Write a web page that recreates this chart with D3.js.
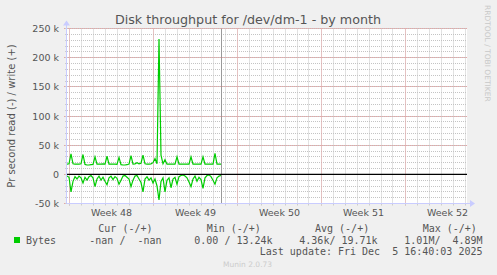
<!DOCTYPE html>
<html>
<head>
<meta charset="utf-8">
<script src="https://cdn.jsdelivr.net/npm/d3@7"></script>
<style>
  html, body { margin: 0; padding: 0; background: #f0f0f0; }
  svg { display: block; font-family: "DejaVu Sans", sans-serif; }
  .tick text { fill: #555; font-size: 9.5px; font-family: "DejaVu Sans", sans-serif; }
  .mono { font-family: "DejaVu Sans Mono", monospace; font-size: 10px; fill: #555; white-space: pre; }
</style>
</head>
<body>
<svg id="chart" width="497" height="275"></svg>
<script>
// series: 4-hour samples starting Nov 23 20:00 UTC, bytes per second (thousands)
const startTime = "2025-11-23T20:00:00Z";
const stepHours = 4;
const writeK = [
  17.5, 18, 35, 18, 17.5, 17.5, 17.5, 18, 34, 17, 16, 16, 16.5, 17, 30, 17.5,
  17.5, 17.5, 18, 17.5, 31, 17.5, 17.5, 17.5, 17.5, 17, 29, 16.5, 16, 16, 16.5, 17.5,
  32, 17.5, 18, 20, 18, 19, 33, 18, 17.5, 17.5, 18, 20, 27, 18, 232, 33,
  18, 25, 17.5, 17.5, 17.5, 17.5, 17.5, 30, 17.5, 17.5, 17.5, 17.5, 17.5, 17.5, 30, 17.5,
  17.5, 17.5, 17.5, 17.5, 30, 17.5, 17.5, 17.5, 17.5, 17.5, 36, 17.5, 17.5, 17.5
];
const readK = [
  3, 5, 30, 12, 4, 8, 3, 6, 15, 5, 10, 4, 2, 6, 21, 8,
  3, 10, 5, 12, 18, 6, 3, 9, 4, 7, 17, 10, 3, 2, 5, 8,
  21, 10, 3, 2, 8, 14, 30, 8, 4, 10, 6, 15, 8, 20, 44, 12,
  6, 30, 10, 6, 23, 8, 5, 17, 4, 2, 1, 3, 6, 13, 21, 8,
  3, 12, 5, 9, 24, 6, 2, 1, 4, 10, 17, 6, 3, 2
];
const weekLabels = ["Week 48", "Week 49", "Week 50", "Week 51", "Week 52"];
const weekStarts = ["2025-11-24", "2025-12-01", "2025-12-08", "2025-12-15", "2025-12-22"];
const yMajor = [-50000, 0, 50000, 100000, 150000, 200000, 250000];
const lastUpdateMark = "2025-12-06T16:40:00Z";

const legendHead = ["Cur (-/+)", "Min (-/+)", "Avg (-/+)", "Max (-/+)"];
const legendVals = ["-nan /  -nan", "0.00 / 13.24k", "4.36k/ 19.71k", "1.01M/  4.89M"];
const lastUpdate = "Last update: Fri Dec  5 16:40:03 2025";

const svg = d3.select("#chart");
const plot = { left: 67, right: 467, top: 28.5, bottom: 203.5 };

const t0 = new Date(startTime);
const x = d3.scaleUtc()
  .domain([t0, d3.utcHour.offset(new Date("2025-12-27T00:00:00Z"), 4)])
  .range([plot.left, plot.right]);
const y = d3.scaleLinear().domain([-50000, 250000]).range([plot.bottom, plot.top]);

const pts = writeK.map((w, i) => ({
  t: d3.utcHour.offset(t0, i * stepHours),
  w: w * 1000,
  r: -readK[i] * 1000,
}));

// canvas
svg.append("rect").attr("x", plot.left).attr("y", plot.top - 0.5)
  .attr("width", plot.right - plot.left).attr("height", plot.bottom - plot.top + 0.5)
  .attr("fill", "#ffffff");

const crisp = (v) => Math.round(v - 0.5) + 0.5;

// grid: minor (days / 10k)
const dayTicks = d3.utcDay.range(x.domain()[0], x.domain()[1]);
const minorY = d3.range(-50000, 250001, 10000);
const grid = svg.append("g");
grid.selectAll(".vmin").data(dayTicks).join("line").attr("class", "vmin")
  .attr("x1", (d) => crisp(x(d))).attr("x2", (d) => crisp(x(d)))
  .attr("y1", plot.top).attr("y2", plot.bottom)
  .attr("stroke", "#c4c4c4").attr("stroke-dasharray", "1 1");
grid.selectAll(".hmin").data(minorY).join("line").attr("class", "hmin")
  .attr("y1", (d) => crisp(y(d))).attr("y2", (d) => crisp(y(d)))
  .attr("x1", plot.left).attr("x2", plot.right)
  .attr("stroke", "#c4c4c4").attr("stroke-dasharray", "1 1");

// grid: major (weeks / 50k)
const weekDates = weekStarts.map((s) => new Date(s + "T00:00:00Z"));
grid.selectAll(".vmaj").data(weekDates).join("line").attr("class", "vmaj")
  .attr("x1", (d) => crisp(x(d))).attr("x2", (d) => crisp(x(d)))
  .attr("y1", plot.top).attr("y2", plot.bottom + 3)
  .attr("stroke", "#e8a4a4").attr("stroke-dasharray", "1 1");
grid.selectAll(".hmaj").data(yMajor).join("line").attr("class", "hmaj")
  .attr("y1", (d) => crisp(y(d))).attr("y2", (d) => crisp(y(d)))
  .attr("x1", plot.left - 3).attr("x2", plot.right)
  .attr("stroke", "#e8a4a4").attr("stroke-dasharray", "1 1");

// minor ticks on axes
grid.selectAll(".ymt").data(minorY).join("line").attr("class", "ymt")
  .attr("y1", (d) => crisp(y(d))).attr("y2", (d) => crisp(y(d)))
  .attr("x1", plot.left - 2).attr("x2", plot.left)
  .attr("stroke", "#cccccc");
grid.selectAll(".xmt").data(dayTicks).join("line").attr("class", "xmt")
  .attr("x1", (d) => crisp(x(d))).attr("x2", (d) => crisp(x(d)))
  .attr("y1", plot.bottom).attr("y2", plot.bottom + 2)
  .attr("stroke", "#cccccc");

// y axis labels
const yAx = svg.append("g").attr("transform", `translate(${plot.left},0)`)
  .call(d3.axisLeft(y).tickValues(yMajor).tickSize(0).tickPadding(8)
    .tickFormat((v) => (v === 0 ? "0" : v / 1000 + " k")));
yAx.select(".domain").remove();

// x axis labels centred in each week
const weekMids = weekDates.map((d) => d3.utcHour.offset(d, 84));
const xAx = svg.append("g").attr("transform", `translate(0,${plot.bottom})`)
  .call(d3.axisBottom(x).tickValues(weekMids).tickSize(0).tickPadding(6)
    .tickFormat((d, i) => weekLabels[i]));
xAx.select(".domain").remove();

// vertical rule
svg.append("line")
  .attr("x1", crisp(x(new Date(lastUpdateMark)))).attr("x2", crisp(x(new Date(lastUpdateMark))))
  .attr("y1", plot.top).attr("y2", plot.bottom)
  .attr("stroke", "#999999");

// data lines
const lineW = d3.line().x((d) => x(d.t)).y((d) => y(d.w));
const lineR = d3.line().x((d) => x(d.t)).y((d) => y(d.r));
svg.append("path").datum(pts).attr("d", lineW)
  .attr("fill", "none").attr("stroke", "#00cc00").attr("stroke-width", 1.2);
svg.append("path").datum(pts).attr("d", lineR)
  .attr("fill", "none").attr("stroke", "#00cc00").attr("stroke-width", 1.2);

// zero line
svg.append("line")
  .attr("x1", plot.left).attr("x2", plot.right)
  .attr("y1", y(0)).attr("y2", y(0))
  .attr("stroke", "#000").attr("stroke-width", 1.3);

// axis lines with arrows
const axisCol = "#c9ccff";
svg.append("line").attr("x1", plot.left - 0.5).attr("x2", plot.left - 0.5)
  .attr("y1", plot.bottom).attr("y2", plot.top - 4).attr("stroke", axisCol);
svg.append("path").attr("d", `M${plot.left - 4},${plot.top - 3} L${plot.left - 0.5},${plot.top - 8} L${plot.left + 3},${plot.top - 3} Z`)
  .attr("fill", axisCol);
svg.append("line").attr("x1", plot.left).attr("x2", plot.right + 4)
  .attr("y1", plot.bottom).attr("y2", plot.bottom).attr("stroke", axisCol);
svg.append("path").attr("d", `M${plot.right + 3},${plot.bottom - 3.5} L${plot.right + 8},${plot.bottom} L${plot.right + 3},${plot.bottom + 3.5} Z`)
  .attr("fill", axisCol);

// title
svg.append("text").attr("x", 248).attr("y", 24).attr("text-anchor", "middle")
  .attr("font-size", 12.7).attr("fill", "#555")
  .text("Disk throughput for /dev/dm-1 - by month");

// vertical axis title
svg.append("text")
  .attr("transform", `translate(15,${(plot.top + plot.bottom) / 2}) rotate(-90)`)
  .attr("text-anchor", "middle").attr("font-size", 10).attr("fill", "#555")
  .text("Pr second read (-) / write (+)");

// watermark
svg.append("text")
  .attr("transform", "translate(485,5) rotate(90)")
  .attr("font-size", 7.5).attr("fill", "#c8c8c8")
  .text("RRDTOOL / TOBI OETIKER");

// legend
const headX = [98.3, 206.7, 315, 422.7];
const valX = [89.3, 194.3, 299.3, 404.3];
svg.selectAll(".lh").data(legendHead).join("text").attr("class", "mono lh")
  .attr("x", (d, i) => headX[i]).attr("y", 231.5).text((d) => d);
svg.append("rect").attr("x", 14).attr("y", 237).attr("width", 6).attr("height", 6)
  .attr("fill", "#00cc00");
svg.append("text").attr("class", "mono").attr("x", 26).attr("y", 243.5).text("Bytes");
svg.selectAll(".lv").data(legendVals).join("text").attr("class", "mono lv")
  .attr("x", (d, i) => valX[i]).attr("y", 243.5).text((d) => d);
svg.append("text").attr("class", "mono").attr("x", 482.5).attr("y", 254.5)
  .attr("text-anchor", "end").text(lastUpdate);

svg.append("text").attr("x", 223).attr("y", 267).attr("font-size", 7.5)
  .attr("fill", "#cccccc").text("Munin 2.0.73");
</script>
</body>
</html>
